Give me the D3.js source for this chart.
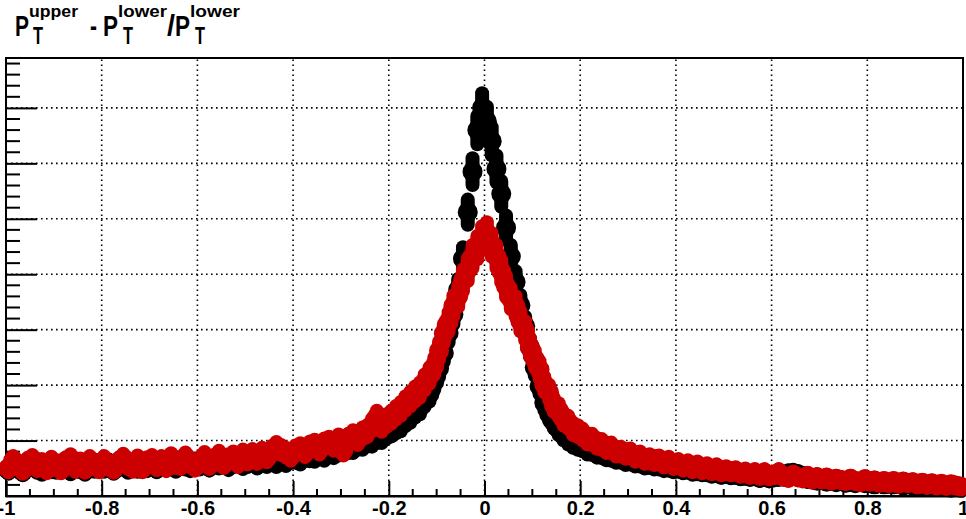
<!DOCTYPE html>
<html>
<head>
<meta charset="utf-8">
<script src="https://cdn.jsdelivr.net/npm/d3@7"></script>
<style>
  html, body { margin: 0; padding: 0; background: #fff; }
  svg { display: block; }
  text { font-family: "Liberation Sans", Arial, Helvetica, sans-serif; font-weight: bold; }
</style>
</head>
<body>
<svg id="chart" width="966" height="519"></svg>
<script>
// Histogram binning: 200 bins of width 0.01 on [-1, 1]
const binLow = -1;
const binWidth = 0.01;

// Bin contents, lower-track reference (black)
const countsBlack = [
  47, 56, 51, 44, 53, 58, 49, 45, 55, 50,
  49, 57, 52, 46, 58, 50, 45, 56, 51, 57,
  51, 58, 47, 54, 59, 49, 57, 51, 60, 52,
  56, 50, 60, 53, 58, 51, 61, 55, 52, 60,
  55, 62, 53, 59, 57, 63, 54, 60, 64, 56,
  60, 64, 57, 65, 60, 66, 60, 67, 62, 68,
  68, 65, 72, 71, 70, 76, 72, 78, 77, 82,
  83, 87, 87, 93, 93, 99, 99, 106, 106, 114,
  118, 124, 128, 138, 144, 154, 160, 174, 184, 206,
  230, 258, 294, 328, 372, 428, 512, 585, 660, 700,
  676, 640, 590, 545, 484, 432, 386, 344, 306, 268,
  232, 198, 168, 148, 133, 121, 111, 103, 97, 93,
  90, 84, 83, 78, 77, 73, 72, 68, 68, 64,
  65, 61, 61, 57, 58, 55, 55, 52, 53, 50,
  51, 48, 49, 45, 46, 44, 44, 41, 42, 39,
  41, 38, 39, 36, 37, 35, 36, 33, 35, 32,
  34, 35, 37, 40, 41, 39, 36, 31, 30, 28,
  29, 26, 28, 25, 27, 24, 26, 23, 26, 23,
  24, 21, 24, 21, 22, 21, 22, 19, 21, 19,
  20, 17, 19, 17, 18, 17, 18, 15, 17, 15
];

// Bin contents, upper-track comparison (red)
const countsRed = [
  50, 64, 57, 47, 61, 66, 52, 59, 48, 63,
  56, 48, 62, 67, 51, 60, 49, 64, 58, 50,
  64, 55, 49, 61, 68, 56, 51, 65, 50, 62,
  66, 54, 64, 52, 69, 58, 56, 70, 60, 53,
  62, 71, 56, 66, 73, 58, 67, 72, 60, 75,
  65, 76, 66, 78, 69, 81, 88, 83, 78, 72,
  82, 86, 79, 89, 92, 84, 94, 97, 91, 101,
  82, 102, 108, 102, 113, 117, 128, 142, 127, 136,
  142, 150, 157, 167, 175, 184, 191, 205, 217, 234,
  262, 293, 314, 343, 360, 389, 408, 432, 448, 465,
  472, 453, 432, 405, 378, 356, 342, 315, 298, 268,
  247, 228, 201, 187, 164, 155, 139, 133, 121, 117,
  111, 103, 102, 95, 93, 87, 87, 80, 80, 76,
  77, 70, 72, 66, 67, 64, 65, 59, 63, 56,
  59, 53, 57, 50, 55, 48, 52, 46, 50, 44,
  47, 44, 45, 41, 43, 39, 42, 37, 42, 36,
  38, 42, 35, 33, 38, 34, 32, 36, 30, 34,
  30, 33, 28, 31, 29, 27, 31, 27, 25, 30,
  26, 28, 24, 27, 23, 27, 22, 26, 23, 25,
  21, 24, 20, 23, 19, 22, 18, 21, 19, 17
];

// Axis ticks
const xMajorTicks = [-1, -0.8, -0.6, -0.4, -0.2, 0, 0.2, 0.4, 0.6, 0.8, 1];
const xTickLabels = ["-1", "-0.8", "-0.6", "-0.4", "-0.2", "0", "0.2", "0.4", "0.6", "0.8", "1"];
const yMajorTicks = [100, 200, 300, 400, 500, 600, 700];
const yMax = 790;

const svg = d3.select("#chart");
const frame = { left: 6, right: 963, top: 58, bottom: 496 };

const x = d3.scaleLinear().domain([-1, 1]).range([frame.left, frame.right]);
const y = d3.scaleLinear().domain([0, yMax]).range([frame.bottom, frame.top]);

// Dotted grid
const grid = svg.append("g").attr("stroke", "#000").attr("stroke-width", 1.6)
  .attr("stroke-dasharray", "1.6,3.4").attr("fill", "none");
grid.selectAll("line.gx").data(xMajorTicks.slice(1, -1)).join("line")
  .attr("x1", d => x(d)).attr("x2", d => x(d))
  .attr("y1", frame.bottom).attr("y2", frame.top);
grid.selectAll("line.gy").data(yMajorTicks).join("line")
  .attr("y1", d => y(d)).attr("y2", d => y(d))
  .attr("x1", frame.left).attr("x2", frame.right);

// Frame
svg.append("rect")
  .attr("x", frame.left).attr("y", frame.top)
  .attr("width", frame.right - frame.left).attr("height", frame.bottom - frame.top)
  .attr("fill", "none").attr("stroke", "#000").attr("stroke-width", 2);

// X axis: ticks pointing up into the frame
const xAxis = d3.axisBottom(x)
  .tickValues(xMajorTicks)
  .tickFormat((d, i) => xTickLabels[i])
  .tickSize(-15).tickPadding(5);
const gx = svg.append("g").attr("transform", `translate(0,${frame.bottom})`).call(xAxis);
gx.select(".domain").attr("stroke-width", 2);
gx.selectAll(".tick line").attr("stroke-width", 2);
gx.selectAll(".tick text").attr("font-size", 20).attr("fill", "#000")
  .style("font-family", '"Liberation Sans", Arial, sans-serif').style("font-weight", "bold");

const xMinor = d3.range(-1, 1.0001, 0.05).filter(v => Math.abs(Math.round(v * 5) - v * 5) > 1e-6);
svg.append("g").selectAll("line").data(xMinor).join("line")
  .attr("x1", d => x(d)).attr("x2", d => x(d))
  .attr("y1", frame.bottom).attr("y2", frame.bottom - 7)
  .attr("stroke", "#000").attr("stroke-width", 2);

// Y axis: ticks pointing right into the frame, no labels
const yAxis = d3.axisLeft(y)
  .tickValues(yMajorTicks)
  .tickFormat("")
  .tickSize(-31);
const gy = svg.append("g").attr("transform", `translate(${frame.left},0)`).call(yAxis);
gy.select(".domain").remove();
gy.selectAll(".tick line").attr("stroke-width", 2);

const yMinor = d3.range(20, yMax, 20).filter(v => v % 100 !== 0);
svg.append("g").selectAll("line").data(yMinor).join("line")
  .attr("x1", frame.left).attr("x2", frame.left + 14)
  .attr("y1", d => y(d)).attr("y2", d => y(d))
  .attr("stroke", "#000").attr("stroke-width", 2);

// Markers with Poisson error bars
function drawSeries(counts, color) {
  const pts = counts.map((c, i) => ({ xc: binLow + binWidth * (i + 0.5), c, e: Math.sqrt(c) }));
  const g = svg.append("g");
  g.selectAll("line").data(pts).join("line")
    .attr("x1", d => x(d.xc)).attr("x2", d => x(d.xc))
    .attr("y1", d => y(d.c - d.e)).attr("y2", d => y(d.c + d.e))
    .attr("stroke", color).attr("stroke-width", 14).attr("stroke-linecap", "round");
  g.selectAll("circle").data(pts).join("circle")
    .attr("cx", d => x(d.xc)).attr("cy", d => y(d.c)).attr("r", 10)
    .attr("fill", color);
}
drawSeries(countsBlack, "#000000");
drawSeries(countsRed, "#cc0000");

// Title: P_T^upper - P_T^lower / P_T^lower
const title = svg.append("g").attr("fill", "#000");
const pieces = [
  { t: "P", x: 15, y: 36, size: 20, w: 14, s: 1.45 },
  { t: "upper", x: 29, y: 17, size: 15, w: 49, s: 1.05 },
  { t: "T", x: 33, y: 44, size: 16, w: 10, s: 1.45 },
  { t: "-", x: 90, y: 36, size: 20, w: 7, s: 1.45 },
  { t: "P", x: 103, y: 36, size: 20, w: 15, s: 1.45 },
  { t: "lower", x: 118, y: 17, size: 15, w: 49, s: 1.05 },
  { t: "T", x: 123, y: 44, size: 16, w: 10, s: 1.45 },
  { t: "/", x: 167, y: 36, size: 20, w: 8, s: 1.45 },
  { t: "P", x: 175, y: 36, size: 20, w: 15, s: 1.45 },
  { t: "lower", x: 190, y: 17, size: 15, w: 50, s: 1.05 },
  { t: "T", x: 195, y: 44, size: 16, w: 10, s: 1.45 }
];
pieces.forEach(p => {
  title.append("text")
    .attr("transform", `translate(${p.x},${p.y}) scale(1,${p.s})`)
    .attr("font-size", p.size)
    .attr("textLength", p.w).attr("lengthAdjust", "spacingAndGlyphs")
    .text(p.t);
});
</script>
</body>
</html>
